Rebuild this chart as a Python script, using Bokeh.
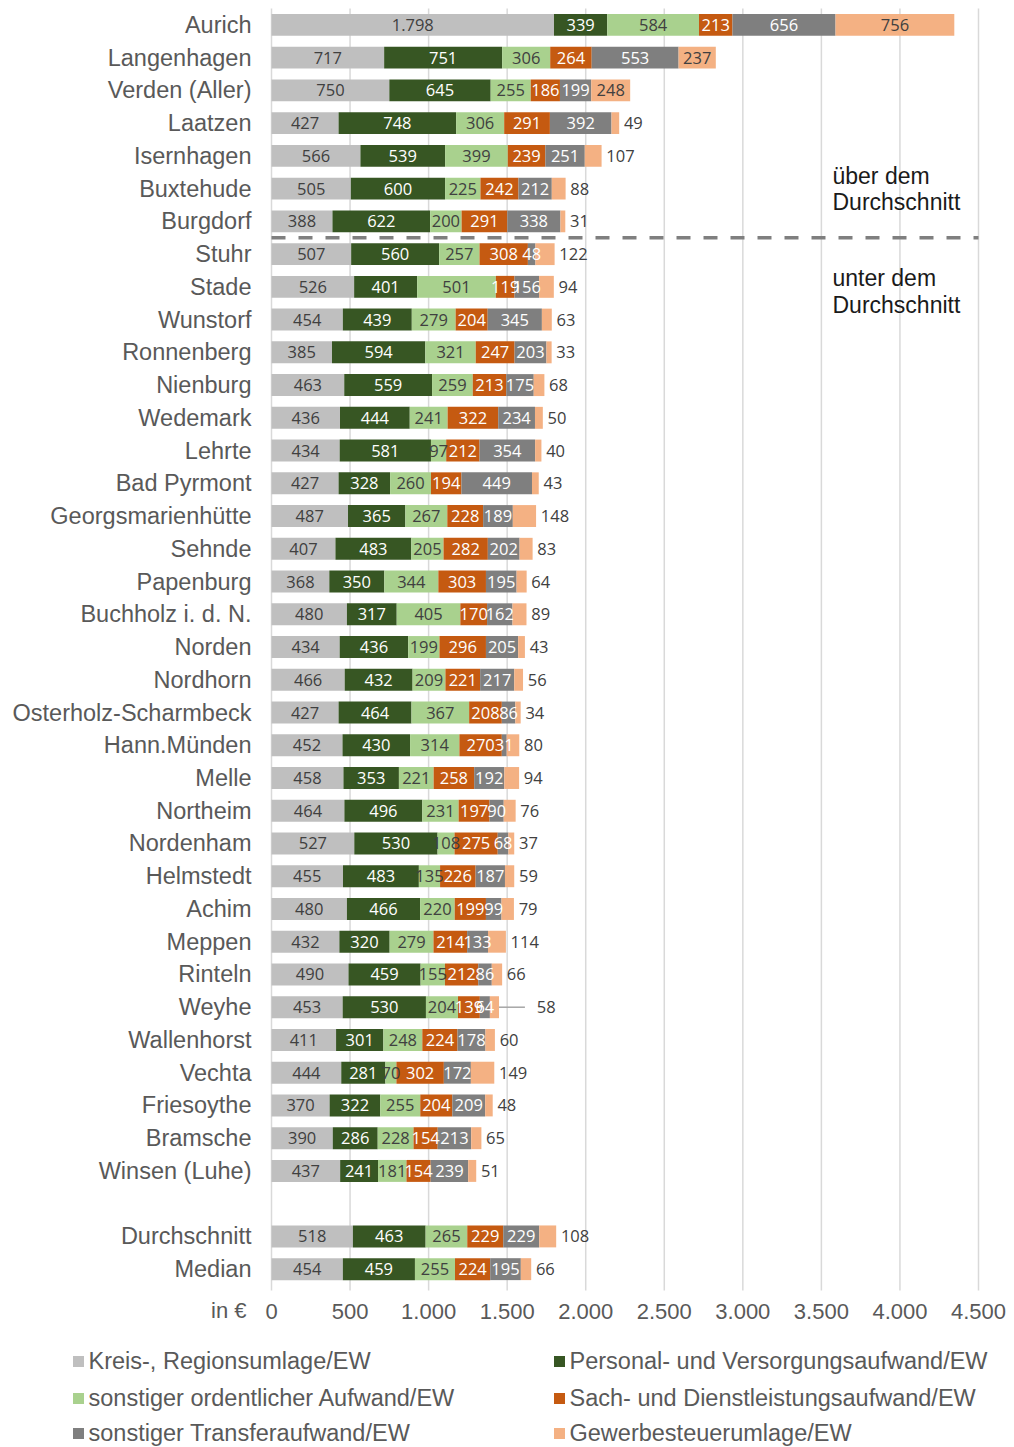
from bokeh.plotting import figure
from bokeh.models import ColumnDataSource, Range1d
from bokeh.embed import file_html
from bokeh.resources import INLINE
from bokeh.core.properties import value
import numpy as np

# ---------------- data ----------------
cities = ["Aurich", "Langenhagen", "Verden (Aller)", "Laatzen", "Isernhagen", "Buxtehude",
          "Burgdorf", "Stuhr", "Stade", "Wunstorf", "Ronnenberg", "Nienburg", "Wedemark",
          "Lehrte", "Bad Pyrmont", "Georgsmarienhütte", "Sehnde", "Papenburg",
          "Buchholz i. d. N.", "Norden", "Nordhorn", "Osterholz-Scharmbeck", "Hann.Münden",
          "Melle", "Northeim", "Nordenham", "Helmstedt", "Achim", "Meppen", "Rinteln",
          "Weyhe", "Wallenhorst", "Vechta", "Friesoythe", "Bramsche", "Winsen (Luhe)",
          "Durchschnitt", "Median"]

kreis = [1798, 717, 750, 427, 566, 505, 388, 507, 526, 454, 385, 463, 436, 434, 427, 487,
         407, 368, 480, 434, 466, 427, 452, 458, 464, 527, 455, 480, 432, 490, 453, 411,
         444, 370, 390, 437, 518, 454]
personal = [339, 751, 645, 748, 539, 600, 622, 560, 401, 439, 594, 559, 444, 581, 328, 365,
            483, 350, 317, 436, 432, 464, 430, 353, 496, 530, 483, 466, 320, 459, 530, 301,
            281, 322, 286, 241, 463, 459]
sonst_ord = [584, 306, 255, 306, 399, 225, 200, 257, 501, 279, 321, 259, 241, 97, 260, 267,
             205, 344, 405, 199, 209, 367, 314, 221, 231, 108, 135, 220, 279, 155, 204, 248,
             70, 255, 228, 181, 265, 255]
sach = [213, 264, 186, 291, 239, 242, 291, 308, 119, 204, 247, 213, 322, 212, 194, 228,
        282, 303, 170, 296, 221, 208, 270, 258, 197, 275, 226, 199, 214, 212, 139, 224,
        302, 204, 154, 154, 229, 224]
transfer = [656, 553, 199, 392, 251, 212, 338, 48, 156, 345, 203, 175, 234, 354, 449, 189,
            202, 195, 162, 205, 217, 86, 31, 192, 90, 68, 187, 99, 133, 86, 64, 178,
            172, 209, 213, 239, 229, 195]
gewerbe = [756, 237, 248, 49, 107, 88, 31, 122, 94, 63, 33, 68, 50, 40, 43, 148,
           83, 64, 89, 43, 56, 34, 80, 94, 76, 37, 59, 79, 114, 66, 58, 60,
           149, 48, 65, 51, 108, 66]

series_names = ["Kreis-, Regionsumlage/EW", "Personal- und Versorgungsaufwand/EW",
                "sonstiger ordentlicher Aufwand/EW", "Sach- und Dienstleistungsaufwand/EW",
                "sonstiger Transferaufwand/EW", "Gewerbesteuerumlage/EW"]
x_ticks = [0, 500, 1000, 1500, 2000, 2500, 3000, 3500, 4000, 4500]
x_tick_labels = ["0", "500", "1.000", "1.500", "2.000", "2.500", "3.000", "3.500", "4.000", "4.500"]
unit_label = "in €"
split_after = "Burgdorf"          # last city above average
above_text = ["über dem", "Durchschnitt"]
below_text = ["unter dem", "Durchschnitt"]
leader_rows = ["Weyhe"]           # outside label with leader line

# ---------------- style / layout ----------------
colors = ["#bfbfbf", "#375623", "#a9d18e", "#c55a11", "#7f7f7f", "#f4b183"]
label_colors = ["#404040", "#ffffff", "#404040", "#ffffff", "#ffffff", "#404040"]
FONT = "Liberation Sans"
TXT = "#595959"

W, H = 1012, 1446
X0 = 271.0                # pixel of 0 EUR
PX = 707.0 / 4500.0       # pixels per EUR
Y0 = 24.4                 # pixel of first row centre
ROW = 1277.0 / 39.0       # pixels per row


def px2x(px):
    return (px - X0) / PX


def py2y(py):
    return (py - Y0) / ROW


series = [kreis, personal, sonst_ord, sach, transfer, gewerbe]
keys = ["s0", "s1", "s2", "s3", "s4", "s5"]
n = len(cities)
# 36 cities, one blank slot, then average and median
ypos = [i if i < n - 2 else i + 1 for i in range(n)]

data = {"y": ypos}
for k, s in zip(keys, series):
    data[k] = s
src = ColumnDataSource(data)

p = figure(width=W, height=H, output_backend="svg", toolbar_location=None,
           x_range=Range1d(px2x(0), px2x(W)), y_range=Range1d(py2y(H), py2y(0)),
           min_border=0, x_axis_location=None, y_axis_location=None,
           background_fill_color="white", border_fill_color="white")
p.outline_line_color = None
p.grid.visible = False

# vertical grid lines
p.segment(x0=x_ticks, y0=[-0.5] * len(x_ticks), x1=x_ticks, y1=[38.65] * len(x_ticks),
          line_color="#d9d9d9", line_width=1.5)

p.hbar_stack(keys, y="y", height=0.67, color=colors, line_color=None, source=src)

# data labels
arr = np.array(series, dtype=float)
cum = np.cumsum(arr, axis=0)
left = cum - arr
totals = cum[-1]
for k in range(6):
    xs, ys, ts, aligns = [], [], [], []
    for i in range(n):
        v = arr[k, i]
        txt = f"{int(v):,}".replace(",", ".")
        if k < 5 or v >= 200:
            xs.append((left[k, i] + cum[k, i]) / 2)
            aligns.append("center")
        else:
            off = 240 if cities[i] in leader_rows else 30
            xs.append(totals[i] + off)
            aligns.append("left")
        ys.append(ypos[i])
        ts.append(txt)
    lsrc = ColumnDataSource(dict(x=xs, y=ys, text=ts, align=aligns))
    p.text(x="x", y="y", text="text", source=lsrc, text_align="align", text_baseline="middle",
           text_font=value("Open Sans"), text_font_size="16.5px", text_color=label_colors[k])

# leader lines
for nm in leader_rows:
    i = cities.index(nm)
    p.segment(x0=[totals[i]], y0=[ypos[i]], x1=[totals[i] + 165], y1=[ypos[i]],
              line_color="#a6a6a6", line_width=1.5)

# separator between above / below average
sep = cities.index(split_after) + 0.5
p.segment(x0=[0], y0=[sep], x1=[4500], y1=[sep], line_color="#7f7f7f", line_width=3.5,
          line_dash="14 13")

p.text(x=[px2x(832)] * 2, y=[py2y(175), py2y(201)], text=above_text,
       text_font=value(FONT), text_font_size="23px", text_color="#1a1a1a",
       text_baseline="middle", text_align="left")
p.text(x=[px2x(832)] * 2, y=[py2y(277), py2y(304)], text=below_text,
       text_font=value(FONT), text_font_size="23px", text_color="#1a1a1a",
       text_baseline="middle", text_align="left")

# category labels (y axis)
p.text(x=[px2x(251)] * n, y=ypos, text=cities, text_font=value(FONT),
       text_font_size="23.5px", text_color=TXT, text_align="right", text_baseline="middle")

# x tick labels and unit
tick_y = py2y(1311)
p.text(x=x_ticks, y=[tick_y] * len(x_ticks), text=x_tick_labels, text_font=value(FONT),
       text_font_size="22px", text_color=TXT, text_align="center", text_baseline="middle")
p.text(x=[px2x(246)], y=[tick_y - 0.03], text=[unit_label], text_font=value(FONT),
       text_font_size="22px", text_color=TXT, text_align="right", text_baseline="middle")

# legend: two columns, row-major
col_px = [72, 553]
row_py = [1360, 1397, 1432]
mx, my, tx, ty = [], [], [], []
for j in range(len(series_names)):
    cx = col_px[j % 2]
    cy = row_py[j // 2]
    mx.append(px2x(cx + 6)); my.append(py2y(cy + 1))
    tx.append(px2x(cx + 16)); ty.append(py2y(cy))
p.scatter(x=mx, y=my, marker="square", size=11, fill_color=colors, line_color=None)
p.text(x=tx, y=ty, text=series_names, text_font=value(FONT), text_font_size="23.5px",
       text_color=TXT, text_baseline="middle", text_align="left")

open("out.html", "w").write(file_html(p, INLINE))
